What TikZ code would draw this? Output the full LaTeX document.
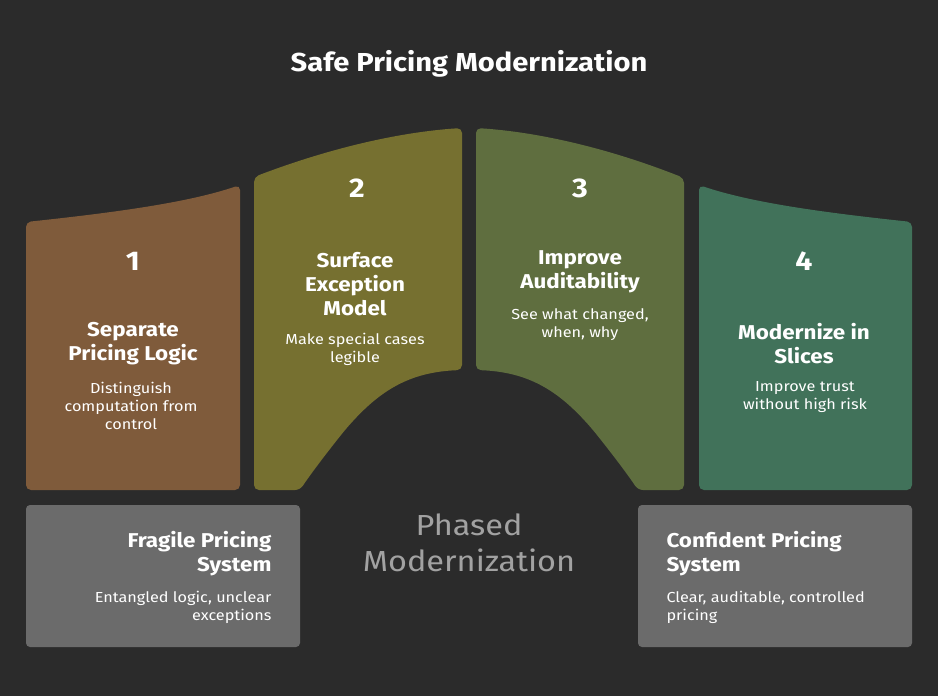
\documentclass[tikz,border=0pt]{standalone}
\usepackage{fontspec}
\setmainfont[FakeStretch=1.12]{Fira Sans}
\usetikzlibrary{positioning}
\definecolor{BgDark}{HTML}{2B2B2B}
\definecolor{StepBrown}{HTML}{7F5B3B}
\definecolor{StepOlive}{HTML}{767030}
\definecolor{StepMoss}{HTML}{5F6E3F}
\definecolor{StepGreen}{HTML}{41725A}
\definecolor{StateGray}{HTML}{6B6B6B}
\definecolor{HubGray}{HTML}{A2A2A2}

\begin{document}
\begin{tikzpicture}[x=1pt, y=-1pt,
    card/.style={rounded corners=5pt},
    numlabel/.style={text=white, font=\bfseries\fontsize{27}{30}\selectfont},
    headlabel/.style={text=white, align=center, font=\bfseries\fontsize{20}{24}\selectfont},
    desclabel/.style={text=white, align=center, font=\fontsize{14.5}{18}\selectfont}]
    % background and frame
    \fill[BgDark] (0,0) rectangle (938,696);
    \node[text=white, font=\bfseries\fontsize{26}{30}\selectfont] (title) at (469,64) {Safe Pricing Modernization};

    % the four phase cards
    \fill[StepBrown, card] (26,490) -- (26,222) .. controls (120,212) and (190,202) .. (240,185) -- (240,490) -- cycle;
    \fill[StepOlive, card] (254,490) -- (254,177) .. controls (330,148) and (400,132) .. (462,128) -- (462,370)
        .. controls (410,372) and (380,390) .. (345,430) .. controls (325,455) and (310,475) .. (300,490) -- cycle;
    \fill[StepMoss, card] (684,490) -- (684,178) .. controls (608,148) and (538,132) .. (476,128) -- (476,370)
        .. controls (528,372) and (558,390) .. (593,430) .. controls (613,455) and (628,475) .. (638,490) -- cycle;
    \fill[StepGreen, card] (699,490) -- (699,185) .. controls (749,202) and (818,212) .. (912,222) -- (912,490) -- cycle;

    \node[numlabel] (num1) at (133,261) {1};
    \node[headlabel] (head1) at (133,344) {Separate\\Pricing Logic};
    \node[desclabel] (desc1) at (131,406) {Distinguish\\computation from\\control};

    \node[numlabel] (num2) at (357,188) {2};
    \node[headlabel] (head2) at (355,284) {Surface\\Exception\\Model};
    \node[desclabel] (desc2) at (355,349) {Make special cases\\legible};

    \node[numlabel] (num3) at (580,188) {3};
    \node[headlabel] (head3) at (580,272) {Improve\\Auditability};
    \node[desclabel] (desc3) at (580,325) {See what changed,\\when, why};

    \node[numlabel] (num4) at (804,261) {4};
    \node[headlabel] (head4) at (804,344) {Modernize in\\Slices};
    \node[desclabel] (desc4) at (805,397) {Improve trust\\without high risk};

    % start and end states
    \fill[StateGray, rounded corners=4pt] (26,505) rectangle (300,647);
    \fill[StateGray, rounded corners=4pt] (638,505) rectangle (912,647);
    \node[headlabel, align=right, anchor=east] (fromhead) at (275,554) {Fragile Pricing\\System};
    \node[desclabel, align=right, anchor=east] (fromdesc) at (275,607) {Entangled logic, unclear\\exceptions};
    \node[headlabel, align=left, anchor=west] (tohead) at (663,554) {Confident Pricing\\System};
    \node[desclabel, align=left, anchor=west] (todesc) at (663,607) {Clear, auditable, controlled\\pricing};

    \node[text=HubGray, align=center, font=\fontsize{29}{36}\selectfont] (hub) at (469,543) {Phased\\Modernization};
  \end{tikzpicture}
\end{document}
